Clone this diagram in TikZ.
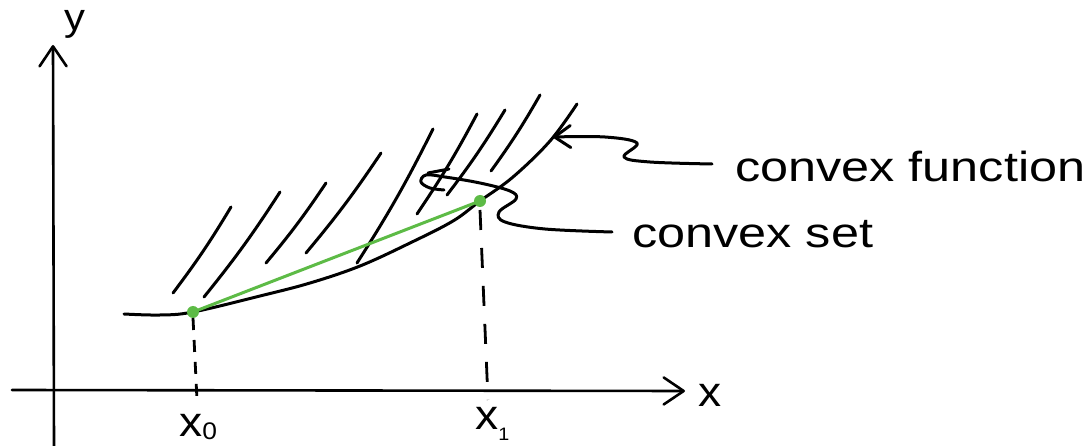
\documentclass[tikz,border=0pt]{standalone}
\usepackage{fontspec}
\setmainfont{Liberation Sans}
\usetikzlibrary{arrows.meta,calc}
\definecolor{pengreen}{HTML}{5DBB46}
\begin{document}
\begin{tikzpicture}[x=1pt,y=-1pt,
  pen/.style={line width=3pt, line cap=round, line join=round},
  hatchline/.style={line width=3pt, line cap=round},
  axisline/.style={line width=2.6pt, line cap=round, -{Straight Barb[round,length=20pt,width=27pt]}},
  dashA/.style={line width=2.8pt, dash pattern=on 12pt off 10pt},
  dashB/.style={line width=2.8pt, dash pattern=on 20pt off 18pt},
  greenline/.style={line width=3pt, draw=pengreen, line cap=round},
  greendot/.style={fill=pengreen},
  bigtext/.style={inner sep=0pt, anchor=base west, font=\fontsize{42}{42}\selectfont, xscale=1.2, transform shape},
  axtext/.style={inner sep=0pt, anchor=base west, font=\fontsize{42}{42}\selectfont, xscale=1.1, transform shape}
]
\fill[white] (0,0) rectangle (1088,446);
\useasboundingbox (0,0) rectangle (1088,446);
\clip (0,0) rectangle (1088,446);

% axes
\coordinate (ybot) at (54,446);
\coordinate (ytop) at (53,45);
\coordinate (xleft) at (12,390);
\coordinate (xright) at (685,391);
\draw[axisline] (ybot) -- (ytop);
\draw[axisline] (xleft) -- (xright);
\node[axtext, font=\fontsize{38}{38}\selectfont] (ylab) at (64,31) {y};
\node[axtext] (xlab) at (698,407) {x};

% hatching
\foreach \ax/\ay/\bx/\by in {173/293/231/207, 204/297/280/192, 266/263/326/183, 306/253/381/153,
  357/263/433/129, 417/214/477/114, 447/195/505/110, 491/171/540/95}{
  \draw[hatchline] (\ax,\ay) to[bend right=3] (\bx,\by);
}

% convex function curve
\coordinate (x0pt) at (193,312);
\coordinate (x1pt) at (480,201);
\draw[pen] plot[smooth, tension=0.6] coordinates {(124,314) (160,315) (x0pt) (260,296) (310,283) (360,266) (410,243) (453,221) (x1pt) (513,177) (550,141) (577,104)};

% chord
\draw[greenline] (x0pt) -- (x1pt);
\fill[greendot] (x0pt) circle (6pt);
\fill[greendot] (x1pt) circle (6pt);

% x labels and dashed guides
\node[axtext] (x0lab) at (179,437) {x\raisebox{-3pt}{\fontsize{24}{24}\selectfont 0}};
\node[axtext] (x1lab) at (475,430) {x\raisebox{-11pt}{\fontsize{18}{18}\selectfont 1}};
\coordinate (x0foot) at (197,400);
\coordinate (x1foot) at (488,400);
\draw[dashA] ([yshift=-6pt]x0pt) -- (x0foot);
\draw[dashB] ([yshift=-9pt]x1pt) -- (x1foot);

% labels
\node[bigtext] (lblf) at (735,182) {convex function};
\node[bigtext] (lbls) at (632,248) {convex set};

% pointer to the function
\coordinate (ffoot) at (553,137);
\draw[pen, -{Straight Barb[round,length=16pt,width=22pt]}]
  plot[smooth, tension=0.6] coordinates {($(lblf.base west)+(-23,-18)$) (650,162) (624,157) (637,143) (605,137) (ffoot)};

% pointer to the set (loop)
\draw[pen] plot[smooth, tension=0.6] coordinates {($(lbls.base west)+(-20,-16)$) (545,229) (505,222) (499,212) (516,199) (510,191) (480,183) (445,177) (426,175) (421,182) (430,188) (444,190)};
\draw[pen] (428,173) -- (449,169);
\end{tikzpicture}
\end{document}
